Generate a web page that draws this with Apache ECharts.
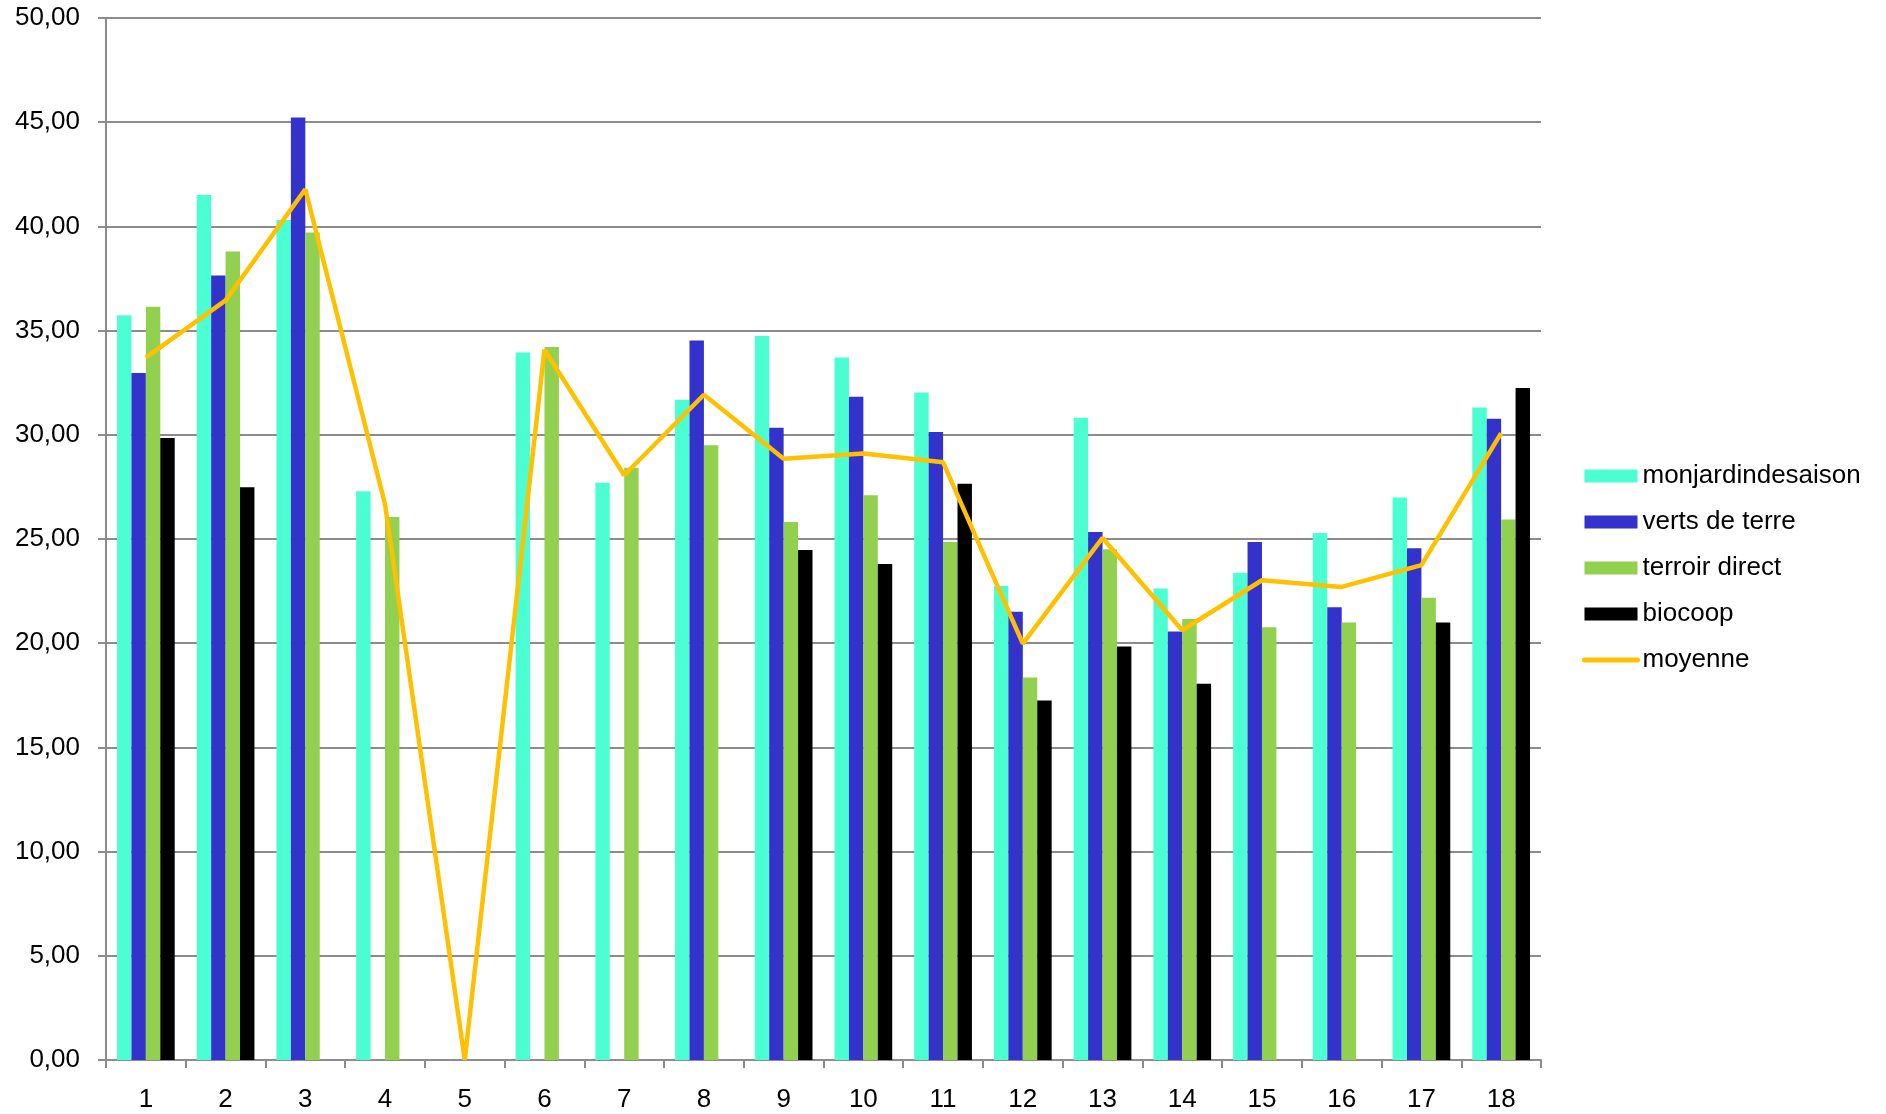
<!DOCTYPE html>
<html>
<head>
<meta charset="utf-8">
<title>moyenne</title>
<script src="https://cdn.jsdelivr.net/npm/echarts@6/dist/echarts.min.js"></script>
<style>
  html, body { margin: 0; padding: 0; background: #fff; }
  #main { width: 1886px; height: 1114px; }
</style>
</head>
<body>
<div id="main"></div>
<script>
// categories 1..18
const categories = ["1", "2", "3", "4", "5", "6", "7", "8", "9", "10", "11", "12", "13", "14", "15", "16", "17", "18"];

// values, null = no bar
const monjardindesaison = [35.74, 41.51, 40.31, 27.29, null, 33.95, 27.70, 31.68, 34.74, 33.71, 32.03, 22.75, 30.82, 22.62, 23.38, 25.29, 26.99, 31.31];
const vertsDeTerre = [32.97, 37.64, 45.22, null, null, null, null, 34.52, 30.34, 31.82, 30.14, 21.51, 25.33, 20.56, 24.86, 21.73, 24.56, 30.77];
const terroirDirect = [36.14, 38.80, 39.71, 26.05, null, 34.21, 28.42, 29.50, 25.81, 27.10, 24.86, 18.35, 24.51, 21.16, 20.77, 20.99, 22.18, 25.93];
const biocoop = [29.85, 27.48, null, null, null, null, null, null, 24.47, 23.80, 27.65, 17.25, 19.84, 18.05, null, null, 20.99, 32.25];
const moyenne = [33.70, 36.45, 41.78, 26.67, 0, 34.08, 28.06, 31.92, 28.85, 29.10, 28.68, 19.98, 25.05, 20.62, 23.02, 22.70, 23.75, 30.08];

const chart = echarts.init(document.getElementById("main"));

const font = "'Liberation Sans', Arial, sans-serif";
const gray = "#8c8c8c";

function barSeries(name, data, color) {
  return {
    name: name,
    type: "bar",
    data: data,
    barGap: 0,
    barCategoryGap: "27.6%",
    itemStyle: { color: color },
    emphasis: { disabled: true }
  };
}

const option = {
  animation: false,
  textStyle: { fontFamily: font },
  grid: {
    left: 106,
    right: 345,
    top: 18,
    bottom: 54
  },
  legend: {
    orient: "vertical",
    left: 1577,
    top: 458,
    itemWidth: 53,
    itemHeight: 13,
    itemGap: 20,
    textStyle: { fontSize: 26, color: "#000", fontFamily: font, lineHeight: 26 },
    data: [
      { name: "monjardindesaison", icon: "rect" },
      { name: "verts de terre", icon: "rect" },
      { name: "terroir direct", icon: "rect" },
      { name: "biocoop", icon: "rect" },
      // line only, hide the dot
      { name: "moyenne", itemStyle: { opacity: 0 }, lineStyle: { width: 5, cap: "round" } }
    ]
  },
  xAxis: {
    type: "category",
    data: categories,
    axisLine: { lineStyle: { color: gray, width: 2 } },
    axisTick: { show: true, length: 8, lineStyle: { color: gray, width: 2 } },
    axisLabel: { fontSize: 26, color: "#000", margin: 27, fontFamily: font },
    splitLine: { show: false }
  },
  yAxis: {
    type: "value",
    min: 0,
    max: 50,
    interval: 5,
    axisLine: { show: true, lineStyle: { color: gray, width: 2 } },
    axisTick: { show: true, length: 8, lineStyle: { color: gray, width: 2 } },
    axisLabel: {
      fontSize: 26,
      color: "#000",
      margin: 26,
      fontFamily: font,
      formatter: function (v) { return v.toFixed(2).replace(".", ","); }
    },
    splitLine: { lineStyle: { color: gray, width: 2 } }
  },
  series: [
    barSeries("monjardindesaison", monjardindesaison, "#4BFFD2"),
    barSeries("verts de terre", vertsDeTerre, "#3333CC"),
    barSeries("terroir direct", terroirDirect, "#92D050"),
    barSeries("biocoop", biocoop, "#000000"),
    {
      name: "moyenne",
      type: "line",
      data: moyenne,
      symbol: "none",
      lineStyle: { color: "#FFC000", width: 4.5 },
      itemStyle: { color: "#FFC000" },
      emphasis: { disabled: true }
    }
  ]
};

chart.setOption(option);
</script>
</body>
</html>
